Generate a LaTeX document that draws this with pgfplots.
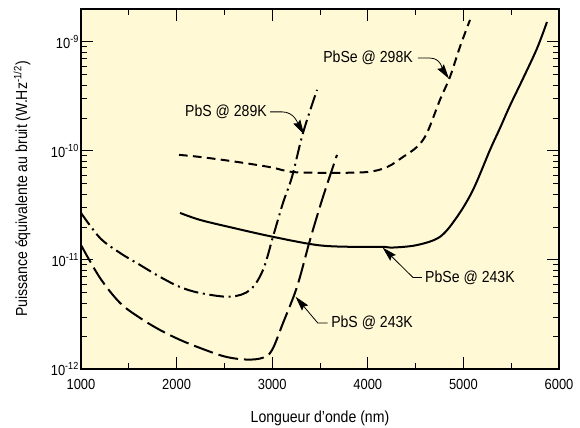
\documentclass[border=0pt]{standalone}
\usepackage{fontspec}
\setmainfont{Liberation Sans}[FakeStretch=0.88]
\usepackage{pgfplots}
\pgfplotsset{compat=1.18}
\usetikzlibrary{arrows.meta}
\definecolor{bgc}{RGB}{255,250,213}
\begin{document}
\begin{tikzpicture}
\useasboundingbox (0,0) rectangle (435pt,320.25pt);
\begin{axis}[
  at={(60.75pt,43.5pt)}, anchor=south west,
  scale only axis, width=358.5pt, height=270pt,
  xmin=1000, xmax=6000, ymode=log, ymin=1e-12, ymax=2e-9,
  axis background/.style={fill=bgc},
  axis line style={line width=0.8pt},
  xtick={1000,2000,3000,4000,5000,6000},
  minor xtick={1500,2500,3500,4500,5500},
  xticklabels={1000,2000,3000,4000,5000,6000},
  ytick={1e-12,1e-11,1e-10,1e-9},
  yticklabels={10\textsuperscript{-12},10\textsuperscript{-11},10\textsuperscript{-10},10\textsuperscript{-9}},
  minor ytick={2e-12,3e-12,4e-12,5e-12,6e-12,7e-12,8e-12,9e-12,
               2e-11,3e-11,4e-11,5e-11,6e-11,7e-11,8e-11,9e-11,
               2e-10,3e-10,4e-10,5e-10,6e-10,7e-10,8e-10,9e-10,2e-9},
  tick align=inside, major tick length=9pt, minor tick length=4.5pt,
  every tick/.style={black, line width=0.7pt},
  tick label style={font=\fontsize{11}{13}\selectfont},
  xticklabel style={yshift=-4.5pt},
  yticklabel style={xshift=2pt},
  xlabel={Longueur d’onde (nm)},
  ylabel={Puissance équivalente au bruit (W.Hz\textsuperscript{-1/2})},
  label style={font=\fontsize{12}{14}\selectfont},
  xlabel style={at={(axis description cs:0.5,-0.136)}, anchor=center},
  ylabel style={at={(axis description cs:-0.1234,0.5)}, anchor=center},
  every axis plot/.append style={line width=1.5pt, black, smooth, tension=0.55, no marks},
]
% PbSe @ 298K
\addplot[dash pattern=on 6.5pt off 4pt] coordinates {
(2025,9.2e-11) (2245,8.8e-11) (2600,8.0e-11) (2977,7.1e-11) (3218,6.4e-11) (3605,6.3e-11)
(3992,6.4e-11) (4201,7.1e-11) (4368,8.8e-11) (4515,1.09e-10) (4619,1.46e-10)
(4755,2.94e-10) (4860,4.78e-10) (4964,9.0e-10) (5069,1.59e-9)};
% PbS @ 289K
\addplot[dash pattern=on 11pt off 3.5pt on 1.5pt off 3.5pt] coordinates {
(1000,2.7e-11) (1199,1.59e-11) (1408,1.16e-11) (1617,9.0e-12) (1826,7.0e-12)
(2036,5.65e-12) (2245,4.98e-12) (2559,4.6e-12) (2768,5.3e-12) (2904,8.1e-12)
(3008,1.63e-11) (3113,3.34e-11) (3207,5.77e-11) (3322,1.46e-10) (3469,3.63e-10)};
% PbS @ 243K
\addplot[dash pattern=on 15pt off 4.5pt] coordinates {
(1000,1.37e-11) (1199,6.84e-12) (1408,4.04e-12) (1617,2.94e-12) (1826,2.28e-12)
(2036,1.85e-12) (2245,1.56e-12) (2506,1.30e-12) (2736,1.22e-12) (2904,1.27e-12)
(2998,1.49e-12) (3113,2.64e-12) (3259,5.65e-12) (3395,1.52e-11) (3531,3.78e-11)
(3678,9.2e-11)};
% PbSe @ 243K
\addplot coordinates {
(2036,2.70e-11) (2245,2.33e-11) (2590,1.97e-11) (3008,1.63e-11) (3469,1.37e-11)
(3814,1.32e-11) (4149,1.32e-11) (4264,1.30e-11) (4515,1.37e-11) (4755,1.63e-11)
(4933,2.48e-11) (5100,4.38e-11) (5278,1.02e-10) (5383,1.62e-10) (5487,2.6e-10)
(5623,4.6e-10) (5770,8.7e-10) (5874,1.52e-9)};
% annotations
\begin{scope}[every node/.style={font=\fontsize{12}{14}\selectfont, inner sep=0pt},
  leader/.style={line width=0.6pt, -{Stealth[length=11pt,width=6pt,inset=1.5pt]}}]
\node[anchor=east] at (axis cs:4473,7.1e-10) {PbSe @ 298K};
\draw[leader] (axis cs:4525,7.1e-10) -- (axis cs:4651,7.1e-10) to[out=0,in=125] (axis cs:4849,4.6e-10);
\node[anchor=east] at (axis cs:2946,2.28e-10) {PbS @ 289K};
\draw[leader] (axis cs:2977,2.28e-10) -- (axis cs:3103,2.28e-10) to[out=0,in=120] (axis cs:3333,1.42e-10);
\node[anchor=west] at (axis cs:3615,2.64e-12) {PbS @ 243K};
\draw[leader] (axis cs:3580,2.64e-12) -- (axis cs:3477,2.64e-12) -- (axis cs:3245,4.6e-12);
\node[anchor=west] at (axis cs:4598,6.84e-12) {PbSe @ 243K};
\draw[leader] (axis cs:4565,6.9e-12) -- (axis cs:4473,6.9e-12) -- (axis cs:4155,1.3e-11);
\end{scope}
\end{axis}
\end{tikzpicture}
\end{document}
